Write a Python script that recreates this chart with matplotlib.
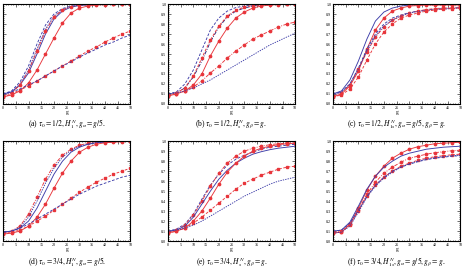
import matplotlib
matplotlib.use("Agg")
import matplotlib.pyplot as plt
import numpy as np
from matplotlib.ticker import MultipleLocator

plt.rcParams['mathtext.fontset'] = 'stix'
plt.rcParams['font.family'] = 'Liberation Serif'

# g values where the curves are sampled (markers sit on these points)
g = np.linspace(0, 50, 16)

# (a) tau0 = 1/2, H_1^N, g_alpha = g/5
a_blue_dash = [0.10, 0.13, 0.22, 0.38, 0.60, 0.79, 0.90, 0.955, 0.98, 0.99, 0.995, 1.0, 1.0, 1.0, 1.0, 1.0]
a_blue_dot = [0.09, 0.12, 0.20, 0.34, 0.55, 0.75, 0.88, 0.945, 0.975, 0.99, 0.995, 1.0, 1.0, 1.0, 1.0, 1.0]
a_blue_solid = [0.10, 0.12, 0.19, 0.31, 0.50, 0.70, 0.85, 0.93, 0.97, 0.985, 0.993, 0.997, 1.0, 1.0, 1.0, 1.0]
a_red_dashdot = [0.08, 0.11, 0.19, 0.33, 0.53, 0.73, 0.87, 0.94, 0.975, 0.99, 0.995, 1.0, 1.0, 1.0, 1.0, 1.0]
a_red_solid = [0.07, 0.09, 0.13, 0.21, 0.34, 0.50, 0.66, 0.81, 0.91, 0.96, 0.98, 0.99, 0.995, 1.0, 1.0, 1.0]
a_red_dash = [0.07, 0.10, 0.14, 0.18, 0.23, 0.28, 0.33, 0.38, 0.43, 0.48, 0.53, 0.57, 0.62, 0.66, 0.70, 0.73]
a_blue_slow = [0.10, 0.12, 0.15, 0.19, 0.23, 0.28, 0.33, 0.38, 0.42, 0.47, 0.51, 0.55, 0.59, 0.62, 0.66, 0.69]

# (b) tau0 = 1/2, H_s^N, g_beta = g
b_blue_dash = [0.10, 0.12, 0.20, 0.34, 0.54, 0.74, 0.86, 0.93, 0.965, 0.98, 0.99, 0.995, 1.0, 1.0, 1.0, 1.0]
b_blue_dashdot = [0.10, 0.11, 0.16, 0.27, 0.43, 0.62, 0.77, 0.87, 0.93, 0.96, 0.98, 0.99, 0.995, 1.0, 1.0, 1.0]
b_red_dash = [0.09, 0.11, 0.16, 0.28, 0.46, 0.64, 0.78, 0.88, 0.94, 0.97, 0.985, 0.99, 1.0, 1.0, 1.0, 1.0]
b_red_solid = [0.08, 0.10, 0.13, 0.19, 0.30, 0.48, 0.63, 0.76, 0.86, 0.92, 0.96, 0.98, 0.99, 0.995, 1.0, 1.0]
b_red_dashdot = [0.08, 0.10, 0.13, 0.17, 0.23, 0.31, 0.38, 0.46, 0.53, 0.59, 0.65, 0.69, 0.73, 0.77, 0.80, 0.82]
b_blue_dot = [0.10, 0.11, 0.13, 0.16, 0.20, 0.24, 0.29, 0.34, 0.39, 0.44, 0.49, 0.54, 0.59, 0.63, 0.67, 0.71]

# (c) tau0 = 1/2, H_1s^N, g_alpha = g/5, g_beta = g
c_blue_solid = [0.10, 0.13, 0.24, 0.43, 0.65, 0.83, 0.92, 0.96, 0.98, 0.99, 0.995, 0.997, 0.998, 1.0, 1.0, 1.0]
c_red_solid = [0.07, 0.10, 0.18, 0.33, 0.55, 0.74, 0.86, 0.93, 0.96, 0.98, 0.985, 0.99, 0.99, 0.99, 0.99, 0.99]
c_blue_dash = [0.10, 0.12, 0.20, 0.36, 0.55, 0.70, 0.80, 0.86, 0.89, 0.915, 0.93, 0.94, 0.95, 0.955, 0.96, 0.965]
c_red_dashdot = [0.08, 0.11, 0.19, 0.35, 0.52, 0.67, 0.77, 0.84, 0.88, 0.91, 0.93, 0.945, 0.955, 0.96, 0.965, 0.97]
c_blue_dot = [0.09, 0.12, 0.20, 0.35, 0.53, 0.68, 0.78, 0.84, 0.88, 0.91, 0.925, 0.935, 0.945, 0.95, 0.955, 0.96]
c_red_dash = [0.07, 0.09, 0.15, 0.27, 0.44, 0.60, 0.72, 0.80, 0.86, 0.89, 0.91, 0.93, 0.94, 0.95, 0.955, 0.96]

# (d) tau0 = 3/4, H_1^N, g_alpha = g/5
d_red_dashdot = [0.08, 0.10, 0.15, 0.27, 0.44, 0.62, 0.76, 0.86, 0.92, 0.96, 0.98, 0.99, 0.995, 1.0, 1.0, 1.0]
d_blue_dot = [0.09, 0.10, 0.14, 0.24, 0.40, 0.58, 0.73, 0.84, 0.91, 0.95, 0.97, 0.985, 0.99, 0.995, 1.0, 1.0]
d_blue_solid = [0.09, 0.10, 0.13, 0.20, 0.33, 0.50, 0.67, 0.80, 0.89, 0.94, 0.97, 0.985, 0.99, 0.995, 1.0, 1.0]
d_red_solid = [0.07, 0.08, 0.10, 0.15, 0.24, 0.37, 0.53, 0.68, 0.80, 0.89, 0.94, 0.97, 0.985, 0.99, 0.995, 1.0]
d_red_dash = [0.07, 0.09, 0.11, 0.15, 0.20, 0.25, 0.31, 0.37, 0.43, 0.49, 0.54, 0.59, 0.63, 0.67, 0.70, 0.73]
d_blue_dash = [0.09, 0.10, 0.13, 0.17, 0.22, 0.27, 0.32, 0.37, 0.42, 0.47, 0.51, 0.55, 0.58, 0.61, 0.64, 0.66]

# (e) tau0 = 3/4, H_s^N, g_beta = g
e_blue_dash = [0.10, 0.12, 0.17, 0.27, 0.42, 0.56, 0.67, 0.76, 0.82, 0.86, 0.89, 0.92, 0.94, 0.95, 0.96, 0.97]
e_red_dashdot = [0.09, 0.11, 0.16, 0.26, 0.40, 0.55, 0.68, 0.78, 0.85, 0.90, 0.93, 0.95, 0.965, 0.975, 0.98, 0.985]
e_blue_solid = [0.10, 0.11, 0.15, 0.24, 0.37, 0.50, 0.62, 0.71, 0.78, 0.83, 0.87, 0.895, 0.915, 0.93, 0.94, 0.95]
e_red_solid = [0.08, 0.10, 0.13, 0.20, 0.30, 0.43, 0.57, 0.69, 0.78, 0.85, 0.90, 0.93, 0.95, 0.965, 0.975, 0.98]
e_red_dash = [0.08, 0.10, 0.13, 0.18, 0.24, 0.31, 0.38, 0.45, 0.52, 0.58, 0.62, 0.66, 0.69, 0.72, 0.74, 0.75]
e_blue_dot = [0.10, 0.11, 0.13, 0.16, 0.20, 0.25, 0.30, 0.35, 0.40, 0.45, 0.49, 0.53, 0.57, 0.60, 0.62, 0.64]

# (f) tau0 = 3/4, H_1s^N, g_alpha = g/5, g_beta = g
f_red_solid = [0.08, 0.09, 0.17, 0.33, 0.51, 0.65, 0.75, 0.83, 0.88, 0.92, 0.945, 0.96, 0.975, 0.98, 0.985, 0.99]
f_blue_solid = [0.10, 0.11, 0.19, 0.35, 0.52, 0.65, 0.74, 0.80, 0.85, 0.88, 0.90, 0.92, 0.93, 0.94, 0.945, 0.95]
f_red_dashdot = [0.09, 0.10, 0.17, 0.31, 0.47, 0.59, 0.68, 0.74, 0.79, 0.83, 0.85, 0.87, 0.885, 0.895, 0.905, 0.91]
f_red_dash = [0.08, 0.09, 0.16, 0.30, 0.45, 0.56, 0.64, 0.70, 0.75, 0.78, 0.81, 0.83, 0.845, 0.855, 0.865, 0.87]
f_blue_dash = [0.10, 0.11, 0.18, 0.31, 0.45, 0.56, 0.64, 0.70, 0.74, 0.77, 0.795, 0.815, 0.83, 0.84, 0.85, 0.855]
f_blue_dot = [0.08, 0.09, 0.15, 0.29, 0.44, 0.55, 0.63, 0.69, 0.74, 0.775, 0.80, 0.82, 0.835, 0.845, 0.855, 0.86]

captions = [
    r'(a) $\tau_0 = 1/2, H_1^N, g_\alpha = g/5$.',
    r'(b) $\tau_0 = 1/2, H_s^N, g_\beta = g$.',
    r'(c) $\tau_0 = 1/2, H_{1s}^N, g_\alpha = g/5, g_\beta = g$.',
    r'(d) $\tau_0 = 3/4, H_1^N, g_\alpha = g/5$.',
    r'(e) $\tau_0 = 3/4, H_s^N, g_\beta = g$.',
    r'(f) $\tau_0 = 3/4, H_{1s}^N, g_\alpha = g/5, g_\beta = g$.',
]

BLUE = '#3c3ca8'
RED = '#e8353b'
styles = {
    'blue_solid': dict(color=BLUE, ls='-'),
    'blue_dash': dict(color=BLUE, ls=(0, (3, 1.8))),
    'blue_dot': dict(color=BLUE, ls=(0, (1.5, 1.2))),
    'blue_dashdot': dict(color='#22227a', ls=(0, (4, 1.5, 1, 1.5))),
    'red_solid': dict(color=RED, ls='-', marker='o'),
    'red_dash': dict(color=RED, ls=(0, (3, 1.8)), marker='s'),
    'red_dashdot': dict(color=RED, ls=(0, (4, 1.5, 1, 1.5)), marker='o'),
}

panels = [
    [('blue_dash', a_blue_dash), ('blue_dot', a_blue_dot), ('blue_solid', a_blue_solid),
     ('red_dashdot', a_red_dashdot), ('red_solid', a_red_solid), ('red_dash', a_red_dash),
     ('blue_dash', a_blue_slow)],
    [('blue_dash', b_blue_dash), ('blue_dashdot', b_blue_dashdot), ('red_dash', b_red_dash),
     ('red_solid', b_red_solid), ('red_dashdot', b_red_dashdot), ('blue_dot', b_blue_dot)],
    [('blue_solid', c_blue_solid), ('red_solid', c_red_solid), ('blue_dash', c_blue_dash),
     ('red_dashdot', c_red_dashdot), ('blue_dot', c_blue_dot), ('red_dash', c_red_dash)],
    [('red_dashdot', d_red_dashdot), ('blue_dot', d_blue_dot), ('blue_solid', d_blue_solid),
     ('red_solid', d_red_solid), ('red_dash', d_red_dash), ('blue_dash', d_blue_dash)],
    [('blue_dash', e_blue_dash), ('red_dashdot', e_red_dashdot), ('blue_solid', e_blue_solid),
     ('red_solid', e_red_solid), ('red_dash', e_red_dash), ('blue_dot', e_blue_dot)],
    [('red_solid', f_red_solid), ('blue_solid', f_blue_solid), ('red_dashdot', f_red_dashdot),
     ('red_dash', f_red_dash), ('blue_dash', f_blue_dash), ('blue_dot', f_blue_dot)],
]

fig = plt.figure(figsize=(4.65, 2.7), dpi=100)

lefts = [0.0065, 0.361, 0.716]
bottoms = [0.615, 0.107]
w, h = 0.274, 0.37
cap_y = [0.541, 0.030]

for k, curves in enumerate(panels):
    r, c = divmod(k, 3)
    ax = fig.add_axes([lefts[c], bottoms[r], w, h])
    for name, vals in curves:
        ax.plot(g, vals, lw=0.65, ms=1.7, **styles[name])
    ax.set_xlim(0, 50)
    ax.set_ylim(0, 1)
    ax.xaxis.set_major_locator(MultipleLocator(5))
    ax.xaxis.set_minor_locator(MultipleLocator(1))
    ax.yaxis.set_major_locator(MultipleLocator(0.1))
    ax.yaxis.set_minor_locator(MultipleLocator(0.02))
    ax.set_xticklabels([str(int(v)) for v in ax.get_xticks()])
    ax.set_yticklabels(['%.1f' % v for v in ax.get_yticks()])
    ax.tick_params(which='both', direction='in', top=True, right=True,
                   labelsize=3, pad=1.2, width=0.4)
    ax.tick_params(which='major', length=2)
    ax.tick_params(which='minor', length=1)
    # first column: its y labels fall outside the page in the original
    if c == 0:
        ax.tick_params(labelleft=False)
    for sp in ax.spines.values():
        sp.set_linewidth(0.8)
    ax.set_xlabel('g', fontsize=4, labelpad=0.5)
    fig.text(lefts[c] + w / 2, cap_y[r], captions[k], ha='center', va='center', fontsize=5.5)

fig.savefig('out.png', dpi=100)
